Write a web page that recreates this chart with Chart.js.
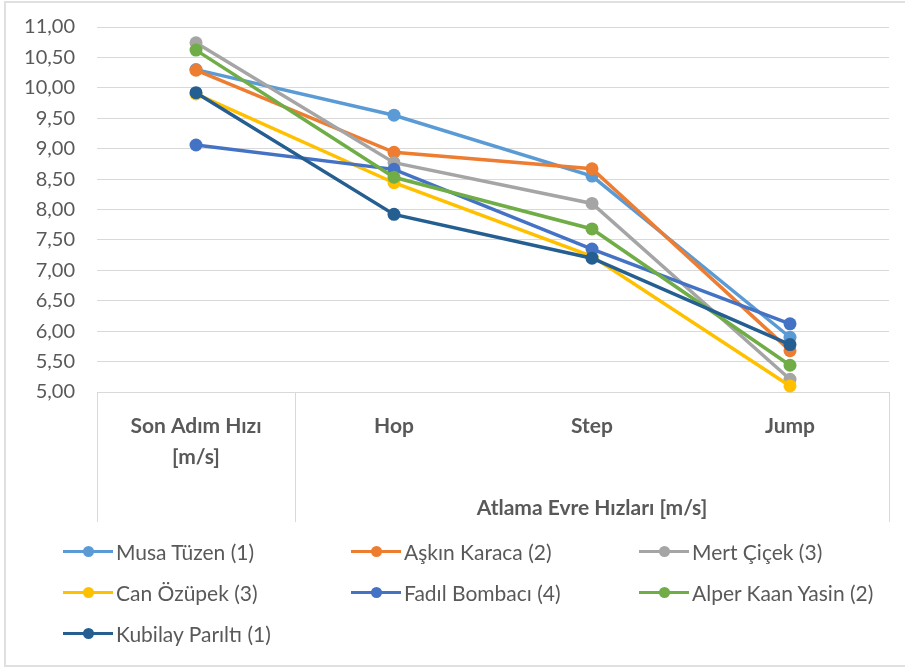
<!DOCTYPE html>
<html>
<head>
<meta charset="utf-8">
<script src="https://cdn.jsdelivr.net/npm/chart.js@4/dist/chart.umd.min.js"></script>
<style>
  body { margin: 0; background: #fff; overflow: hidden; }
  #wrap { position: relative; width: 905px; height: 670px; overflow: hidden; }
  #chart { position: absolute; left: 0; top: -7px; }
  #frame { position: absolute; left: 4px; top: 1px; width: 920px; height: 666px; border: 2px solid #e0e0e0; box-sizing: border-box; pointer-events: none; }
  #legend { position: absolute; left: 63px; top: 531px; display: grid; grid-template-columns: 288px 288px 288px; font-family: Lato, sans-serif; font-size: 21px; color: #595959; }
  .item { display: flex; align-items: center; height: 41px; white-space: nowrap; }
  .swatch { position: relative; width: 50px; height: 3px; margin-right: 3px; }
  .swatch i { position: absolute; left: 20px; top: -4px; width: 11px; height: 11px; border-radius: 50%; }
</style>
</head>
<body>
<div id="wrap">
  <canvas id="chart" width="905" height="677"></canvas>
  <div id="frame"></div>
  <div id="legend"></div>
</div>
<script>
const categories = [['Son Adım Hızı', '[m/s]'], 'Hop', 'Step', 'Jump'];
const groupLabel = 'Atlama Evre Hızları [m/s]';

const musa = [10.30, 9.55, 8.55, 5.90];
const askin = [10.29, 8.94, 8.67, 5.68];
const mert = [10.74, 8.77, 8.10, 5.21];
const can = [9.90, 8.44, 7.23, 5.10];
const fadil = [9.06, 8.66, 7.35, 6.12];
const alper = [10.62, 8.53, 7.68, 5.44];
const kubilay = [9.92, 7.92, 7.20, 5.78];

const seriesNames = ['Musa Tüzen (1)', 'Aşkın Karaca (2)', 'Mert Çiçek (3)', 'Can Özüpek (3)', 'Fadıl Bombacı (4)', 'Alper Kaan Yasin (2)', 'Kubilay Parıltı (1)'];
const seriesValues = [musa, askin, mert, can, fadil, alper, kubilay];
const colors = ['#5B9BD5', '#ED7D31', '#A5A5A5', '#FFC000', '#4472C4', '#70AD47', '#255E91'];

const textColor = '#595959';
const gridColor = '#d9d9d9';

// category dividers + second level label under the x axis
const groupAxis = {
  id: 'groupAxis',
  afterDraw(chart) {
    const ctx = chart.ctx;
    const x = chart.scales.x;
    const area = chart.chartArea;
    const split = (x.getPixelForValue(0) + x.getPixelForValue(1)) / 2;
    ctx.save();
    ctx.strokeStyle = gridColor;
    ctx.lineWidth = 1;
    [area.left, split, area.right].forEach(px => {
      const p = Math.round(px) + 0.5;
      ctx.beginPath();
      ctx.moveTo(p, x.top);
      ctx.lineTo(p, x.bottom);
      ctx.stroke();
    });
    ctx.fillStyle = textColor;
    ctx.font = 'bold 21px Lato';
    ctx.textAlign = 'center';
    ctx.textBaseline = 'middle';
    ctx.fillText(groupLabel, (split + area.right) / 2, x.bottom - 14);
    ctx.restore();
  }
};

const chart = new Chart(document.getElementById('chart').getContext('2d'), {
  type: 'line',
  data: {
    labels: categories,
    datasets: seriesValues.map((vals, i) => ({
      label: seriesNames[i],
      data: vals,
      borderColor: colors[i],
      backgroundColor: colors[i],
      borderWidth: 3.5,
      pointRadius: 6.5,
      pointBorderWidth: 0,
      pointHoverRadius: 6.5,
      tension: 0,
      clip: false,
      order: -i
    }))
  },
  options: {
    responsive: false,
    animation: false,
    layout: { autoPadding: false, padding: { top: 25, right: 16, bottom: 148, left: 0 } },
    plugins: {
      legend: { display: false },
      tooltip: { enabled: false }
    },
    scales: {
      x: {
        offset: true,
        grid: { display: false },
        border: { display: true, color: gridColor, width: 1 },
        afterFit(scale) { scale.height = 130; },
        ticks: {
          autoSkip: false,
          maxRotation: 0,
          padding: 10,
          color: textColor,
          font: { family: 'Lato', size: 21, weight: 'bold', lineHeight: 1.5 }
        }
      },
      y: {
        min: 5,
        max: 11,
        grid: { color: gridColor, drawTicks: false },
        border: { display: false },
        afterFit(scale) { scale.width = 97; },
        ticks: {
          stepSize: 0.5,
          padding: 22,
          color: textColor,
          font: { family: 'Lato', size: 20 },
          callback: v => v.toFixed(2).replace('.', ',')
        }
      }
    }
  },
  plugins: [groupAxis]
});

// legend in three columns, built from the datasets
const legend = document.getElementById('legend');
chart.data.datasets.forEach(ds => {
  const item = document.createElement('div');
  item.className = 'item';
  const sw = document.createElement('span');
  sw.className = 'swatch';
  sw.style.background = ds.borderColor;
  const dot = document.createElement('i');
  dot.style.background = ds.borderColor;
  sw.appendChild(dot);
  item.appendChild(sw);
  item.appendChild(document.createTextNode(ds.label));
  legend.appendChild(item);
});
</script>
</body>
</html>
